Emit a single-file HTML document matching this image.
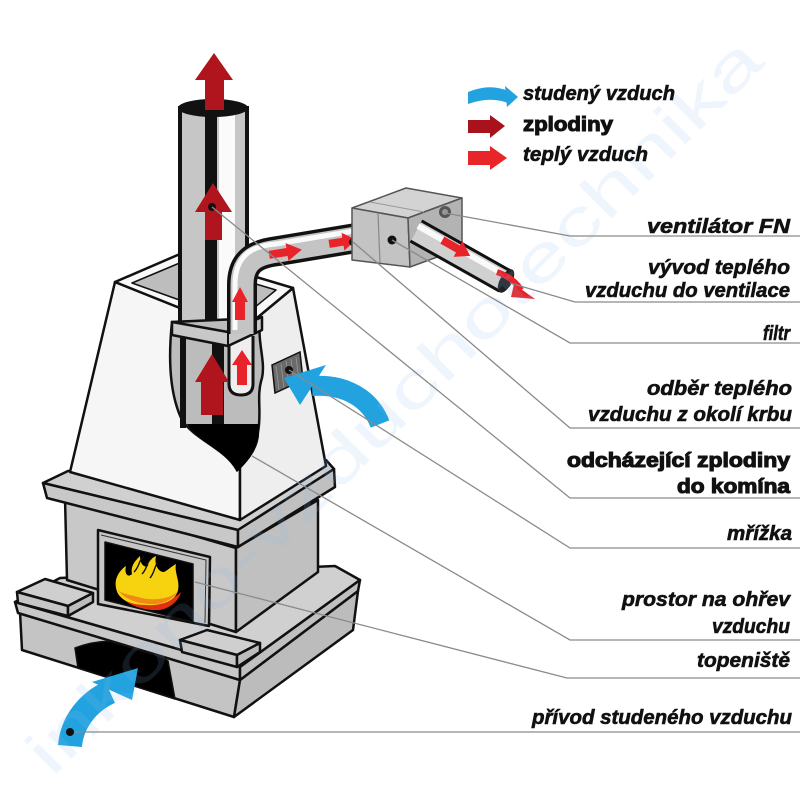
<!DOCTYPE html>
<html><head><meta charset="utf-8">
<style>
html,body{margin:0;padding:0;background:#fff;}
svg{display:block;}
.lb{font-family:"Liberation Sans",sans-serif;font-weight:bold;font-style:italic;font-size:20px;fill:#111;stroke:#111;stroke-width:0.6;}
.lbn{font-family:"Liberation Sans",sans-serif;font-weight:bold;font-size:20px;fill:#111;stroke:#111;stroke-width:1.1;}
</style></head><body>
<svg width="800" height="800" viewBox="0 0 800 800" xmlns="http://www.w3.org/2000/svg">
<rect width="800" height="800" fill="#fff"/>

<!-- ===== Fireplace base / hearth ===== -->
<g stroke="#111" stroke-width="2.5" stroke-linejoin="round">
  <polygon points="20,612 240,680 234,717 22,650" fill="#c4c4c4"/>
  <polygon points="240,680 358,591 353,630 234,717" fill="#bcbcbc"/>
  <path d="M75,648 Q122,630 168,661 L175,699 L78,668 Z" fill="#000" stroke-width="1.5"/>
  <polygon points="15,602 60,578 335,566 360,580 240,667" fill="#d0d0d0"/>
  <polygon points="15,602 240,667 240,680 18,613" fill="#c8c8c8"/>
  <polygon points="240,667 360,580 358,591 240,680" fill="#c0c0c0"/>

  <!-- body -->
  <polygon points="65,498 236,548 236,632 67,580" fill="#c8c8c8"/>
  <polygon points="236,548 318,500 318,572 236,632" fill="#c0c0c0"/>

  <!-- ledge blocks -->
  <polygon points="17,592 45,579 93,593 68,606" fill="#cfcfcf"/>
  <polygon points="17,592 68,606 68,616 18,603" fill="#c6c6c6"/>
  <polygon points="68,606 93,593 93,602 68,616" fill="#bdbdbd"/>
  <polygon points="180,640 207,630 260,643 237,655" fill="#cfcfcf"/>
  <polygon points="180,640 237,655 237,667 182,652" fill="#c6c6c6"/>
  <polygon points="237,655 260,643 260,652 237,667" fill="#bdbdbd"/>

  <!-- firebox frame -->
  <polygon points="98,530 210,557 209,626 98,604" fill="#c6c6c6"/>
  <polygon points="105,542 193,564 193,622 105,600" fill="#000" stroke-width="1.5"/>
</g>
<polyline points="101,535 206,560 205,623" fill="none" stroke="#333" stroke-width="1"/>

<!-- fire -->
<path d="M117,590 C122,603 140,611 160,610 C171,608 179,600 181,592 C172,602 150,605 135,600 C128,598 121,596 117,590 Z" fill="#e03010"/>
<path d="M116,588 C114,578 120,570 126,566 C124,574 128,578 132,574 C130,566 136,560 140,556 C140,564 144,568 148,566 C148,560 152,558 156,556 C154,564 158,572 164,572 C168,570 172,566 176,564 C174,572 180,580 178,590 C176,601 161,606 146,605 C131,605 118,600 116,588 Z" fill="#f7d20e"/>
<path d="M118,590 C125,600 140,605 156,604 C166,603 174,598 178,591 C170,600 150,601 138,597 C130,595 122,594 118,590 Z" fill="#f08a14"/>
<g fill="none" stroke="#111" stroke-width="1.4">
  <path d="M134,572 C140,566 138,561 144,556"/>
  <path d="M142,574 C148,568 146,562 152,558"/>
  <path d="M150,578 C155,572 154,567 158,562"/>
</g>

<!-- ===== Mantel slab ===== -->
<g stroke="#111" stroke-width="2.5" stroke-linejoin="round">
  <polygon points="43,483 68,471 326,460 334,469 238,530" fill="#d0d0d0"/>
  <polygon points="43,483 238,530 238,547 47,498" fill="#c8c8c8"/>
  <polygon points="238,530 334,469 335,487 238,547" fill="#c0c0c0"/>

  <!-- ===== Hood ===== -->
  <polygon points="115,282 240,332 240,520 70,472" fill="#f6f6f6"/>
  <polygon points="240,332 293,288 326,466 240,520" fill="#eeeeee"/>
  <polygon points="115,282 180,254 293,288 240,332" fill="#f8f8f8"/>
  <polygon points="132,283 182,262 276,290 238,321" fill="#bdbdbd" stroke-width="1.5"/>
</g>

<!-- chimney pipe -->
<rect x="180" y="108" width="67" height="222" fill="#c6c6c6" stroke="#111" stroke-width="4"/>
<rect x="205" y="108" width="12" height="222" fill="#111"/>
<rect x="219" y="110" width="16" height="220" fill="#fafafa"/>
<ellipse cx="213" cy="108" rx="35" ry="9" fill="#111"/>

<!-- cutaway -->
<path d="M172,322 C168,360 170,395 182,420 C195,440 225,448 237,470 C250,458 258,446 258,432 C262,412 256,396 262,378 C266,360 256,340 261,318 Z" fill="#bcbcbc" stroke="#111" stroke-width="2.5"/>
<rect x="180" y="333" width="6" height="95" fill="#111"/>
<rect x="212" y="333" width="12" height="97" fill="#111"/>
<path d="M229,336 L229,384 Q229,395 241,395 Q253,395 253,384 L253,336" fill="#eeeeee" stroke="#111" stroke-width="3"/>
<path d="M187,424 L259,424 C260,445 250,460 237,472 C228,452 200,444 187,424 Z" fill="#000"/>
<polygon points="232,365 242,350 252,365 247,365 247,385 237,385 237,365" fill="#e8242a"/>
<polygon points="195,382 212,354 229,382 223,382 223,415 201,415 201,382" fill="#b0141c"/>

<!-- collar -->
<polygon points="172,322 228,332 262,317 262,330 228,346 172,335" fill="#c8c8c8" stroke="#111" stroke-width="2.5" stroke-linejoin="round"/>
<line x1="228" y1="332" x2="228" y2="346" stroke="#111" stroke-width="2"/>

<!-- warm air pipe -->
<path d="M242,334 L242,285 C242,262 254,254 278,251 L362,237" fill="none" stroke="#111" stroke-width="30"/>
<path d="M242,334 L242,285 C242,262 254,254 278,251 L362,237" fill="none" stroke="#c4c4c4" stroke-width="23"/>
<path d="M235,330 L235,285 C235,257 250,246 276,244 L360,230" fill="none" stroke="#fafafa" stroke-width="5"/>
<polygon points="232,302 240,287 248,302 245,302 245,320 235,320 235,302" fill="#e8242a"/>
<g transform="translate(287,252) rotate(-9)"><polygon points="-18,-4 0,-4 0,-9 15,0 0,9 0,4 -18,4" fill="#e8242a"/></g>
<g transform="translate(341,242) rotate(-9)"><polygon points="-12,-4 2,-4 2,-9 15,0 2,9 2,4 -12,4" fill="#e8242a"/></g>
<circle cx="353" cy="242" r="4" fill="#111"/>

<!-- fan box -->
<g stroke="#555" stroke-width="1.5" stroke-linejoin="round">
  <polygon points="352,208 406,188 462,198 408,218" fill="#d3d3d3"/>
  <polygon points="352,208 408,218 410,267 352,260" fill="#c3c3c3"/>
  <polygon points="408,218 462,198 462,248 410,267" fill="#b3b3b3"/>
</g>
<line x1="378" y1="213" x2="380" y2="263" stroke="#888" stroke-width="1.2"/>
<line x1="370" y1="202" x2="424" y2="212" stroke="#999" stroke-width="1"/>
<circle cx="392" cy="240" r="4.5" fill="#111"/>
<circle cx="445" cy="212" r="6" fill="#555"/>
<circle cx="445" cy="212" r="3" fill="#999"/>

<!-- outlet pipe -->
<line x1="416" y1="231" x2="505" y2="281" stroke="#111" stroke-width="26"/>
<line x1="416" y1="231" x2="505" y2="281" stroke="#d0d0d0" stroke-width="20"/>
<line x1="418" y1="226" x2="507" y2="276" stroke="#fafafa" stroke-width="6"/>
<ellipse cx="506" cy="281" rx="6" ry="13" transform="rotate(29.4 506 281)" fill="#222"/>
<g transform="translate(458,249) rotate(29.4)"><polygon points="-18,-4 0,-4 0,-9 14,0 0,9 0,4 -18,4" fill="#e8242a"/></g>
<path d="M497,272 Q514,278 521,290" fill="none" stroke="#e8242a" stroke-width="6"/>
<polygon points="514,284 535,299 511,297" fill="#e8242a"/>

<!-- top chimney arrows -->
<polygon points="195,80 214,53 233,80 224,80 224,110 205,110 205,80" fill="#b0141c"/>
<polygon points="195,212 213,183 232,212 222,212 222,240 205,240 205,212" fill="#b0141c"/>
<circle cx="212" cy="207" r="4" fill="#111"/>

<!-- vent -->
<polygon points="272,365 300,352 303,380 275,393" fill="#6a6a6a" stroke="#111" stroke-width="1.5"/>
<g stroke="#999" stroke-width="0.8">
  <line x1="276" y1="366" x2="279" y2="390"/><line x1="281" y1="364" x2="284" y2="388"/>
  <line x1="286" y1="361" x2="289" y2="386"/><line x1="291" y1="359" x2="294" y2="384"/>
  <line x1="296" y1="357" x2="299" y2="381"/>
</g>

<!-- blue arrows -->
<path d="M380,424 C370,398 345,384 312,386" fill="none" stroke="#22a3e0" stroke-width="20"/>
<polygon points="284,378 326,365 300,405" fill="#22a3e0"/>
<circle cx="289" cy="370" r="4" fill="#111"/>

<path d="M70,746 C72,722 88,702 110,692" fill="none" stroke="#22a3e0" stroke-width="24"/>
<polygon points="92,682 138,668 132,700" fill="#22a3e0"/>
<circle cx="70" cy="732" r="4" fill="#111"/>

<!-- watermark -->
<text transform="translate(52,778) rotate(-45)" font-family="Liberation Sans, sans-serif" font-size="64" fill="#8fb8e8" fill-opacity="0.14" textLength="1010" lengthAdjust="spacingAndGlyphs">inkono-vzduchotechnika</text>

<!-- leader lines -->
<g fill="none" stroke="#8a8a8a" stroke-width="1.3">
  <polyline points="445,213 570,236 800,236"/>
  <polyline points="510,283 575,302 800,302"/>
  <polyline points="392,240 570,343 800,343"/>
  <polyline points="353,242 570,428 800,428"/>
  <polyline points="212,207 570,498 800,498"/>
  <polyline points="289,370 570,548 800,548"/>
  <polyline points="252,456 570,640 800,640"/>
  <polyline points="195,582 567,678 800,678"/>
  <polyline points="74,732 800,732"/>
</g>

<!-- legend -->
<path d="M468,92 Q490,83 508,91 L508,103 Q490,96 468,104 Z" fill="#22a3e0"/>
<polygon points="505,86 518,97 507,107" fill="#22a3e0"/>
<polygon points="468,120 490,120 490,115 505,126 490,138 490,133 468,133" fill="#a8121c"/>
<polygon points="468,151 490,151 490,146 507,158 490,170 490,165 468,165" fill="#e8262a"/>
<text class="lb" x="523" y="100" textLength="152" lengthAdjust="spacingAndGlyphs">studený vzduch</text>
<text class="lbn" x="523" y="131" textLength="90" lengthAdjust="spacingAndGlyphs">zplodiny</text>
<text class="lb" x="523" y="161" textLength="125" lengthAdjust="spacingAndGlyphs">teplý vzduch</text>

<!-- labels -->
<text class="lb" x="647" y="233" textLength="143" lengthAdjust="spacingAndGlyphs">ventilátor FN</text>
<text class="lb" x="648" y="274" textLength="142" lengthAdjust="spacingAndGlyphs">vývod teplého</text>
<text class="lb" x="585" y="297" textLength="205" lengthAdjust="spacingAndGlyphs">vzduchu do ventilace</text>
<text class="lb" x="763" y="340" textLength="27" lengthAdjust="spacingAndGlyphs">filtr</text>
<text class="lb" x="647" y="395" textLength="145" lengthAdjust="spacingAndGlyphs">odběr teplého</text>
<text class="lb" x="588" y="421" textLength="204" lengthAdjust="spacingAndGlyphs">vzduchu z okolí krbu</text>
<text class="lbn" x="567" y="467" textLength="223" lengthAdjust="spacingAndGlyphs">odcházející zplodiny</text>
<text class="lbn" x="677" y="493" textLength="113" lengthAdjust="spacingAndGlyphs">do komína</text>
<text class="lb" x="727" y="540" textLength="65" lengthAdjust="spacingAndGlyphs">mřížka</text>
<text class="lb" x="622" y="606" textLength="168" lengthAdjust="spacingAndGlyphs">prostor na ohřev</text>
<text class="lb" x="712" y="633" textLength="78" lengthAdjust="spacingAndGlyphs">vzduchu</text>
<text class="lb" x="697" y="667" textLength="93" lengthAdjust="spacingAndGlyphs">topeniště</text>
<text class="lb" x="532" y="724" textLength="260" lengthAdjust="spacingAndGlyphs">přívod studeného vzduchu</text>
</svg>
</body></html>
